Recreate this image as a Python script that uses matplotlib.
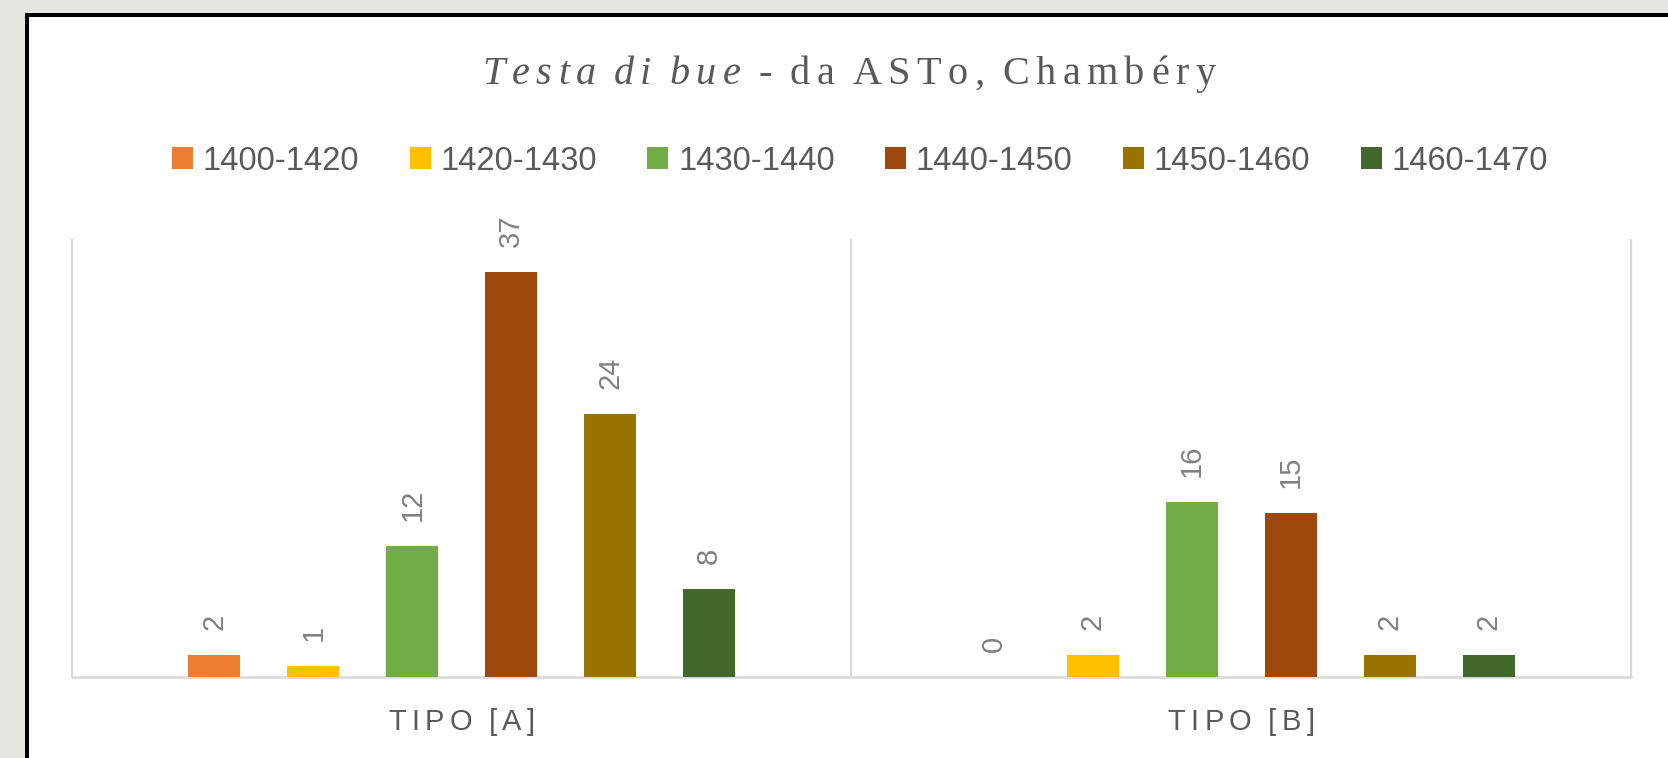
import matplotlib
matplotlib.use("Agg")
import matplotlib.pyplot as plt
from matplotlib.patches import Rectangle
from matplotlib.transforms import IdentityTransform
import numpy as np

CATEGORIES = ["TIPO [A]", "TIPO [B]"]
PERIODS = ["1400-1420", "1420-1430", "1430-1440", "1440-1450", "1450-1460", "1460-1470"]
COLORS = ["#ED7D31", "#FFC000", "#70AD47", "#9E480E", "#997300", "#43682B"]

V_1400_1420 = [2, 0]
V_1420_1430 = [1, 2]
V_1430_1440 = [12, 16]
V_1440_1450 = [37, 15]
V_1450_1460 = [24, 2]
V_1460_1470 = [8, 2]
SERIES = [V_1400_1420, V_1420_1430, V_1430_1440, V_1440_1450, V_1450_1460, V_1460_1470]

_W, _H, _DPI = 1668, 758, 100
_BG = "#E7E6E2"
_TXT = "#595959"
_LBL = "#808080"
_GRID = "#D9D9D9"

_BAR_STEP = 0.127
_BAR_W = 0.067


def _spaced_text(fig, cx, y, parts, width, space_px):
    # lay out characters one by one so the letters can be tracked out
    r = fig.canvas.get_renderer()
    items = []
    for s, kw in parts:
        for ch in s:
            if ch == " ":
                items.append((None, space_px))
                continue
            t = fig.text(0, y, ch, transform=IdentityTransform(),
                         ha="left", va="baseline", **kw)
            items.append((t, t.get_window_extent(r).width))
    ink = sum(w for _, w in items)
    track = (width - ink) / (len(items) - 1)
    x = cx - width / 2
    for t, w in items:
        if t is not None:
            t.set_x(x)
        x += w + track


def main():
    fig = plt.figure(figsize=(_W / _DPI, _H / _DPI), dpi=_DPI)
    fig.patch.set_facecolor(_BG)

    # framed white panel, open to the right and bottom
    fig.add_artist(Rectangle((25, -20), 2000, _H - 13 + 20, transform=IdentityTransform(),
                             facecolor="black", edgecolor="none", zorder=-5))
    fig.add_artist(Rectangle((29, -20), 2000, _H - 17 + 20, transform=IdentityTransform(),
                             facecolor="white", edgecolor="none", zorder=-4))

    ax = fig.add_axes([72 / _W, (_H - 677) / _H, (1631 - 72) / _W, (677 - 239) / _H])
    ax.set_facecolor("none")

    x = np.arange(len(CATEGORIES))
    handles = []
    for k, (vals, col) in enumerate(zip(SERIES, COLORS)):
        xs = x + (k - 2.5) * _BAR_STEP
        b = ax.bar(xs, vals, width=_BAR_W, color=col, zorder=3)
        handles.append(b)
        for xi, v in zip(xs, vals):
            ax.annotate(f"{v}", xy=(xi, v), xytext=(0, 18), textcoords="offset points",
                        ha="center", va="bottom", rotation=90, fontsize=21,
                        family="Liberation Sans", color=_LBL)

    ax.set_xlim(-0.5, len(CATEGORIES) - 0.5)
    ax.set_ylim(0, 40)
    ax.vlines(np.arange(len(CATEGORIES) + 1) - 0.5, 0, 40, color=_GRID, lw=1.6,
              zorder=1, clip_on=False)
    for side in ("left", "right", "top"):
        ax.spines[side].set_visible(False)
    ax.spines["bottom"].set_color(_GRID)
    ax.spines["bottom"].set_linewidth(1.8)
    ax.set_xticks([])
    ax.set_yticks([])

    # category labels, letter spaced
    for xi, cat in zip(x, CATEGORIES):
        cx = ax.transData.transform((xi, 0))[0]
        _spaced_text(fig, cx, 28, [(cat, dict(family="Liberation Sans", fontsize=21,
                                               color=_TXT))], 147, 6)

    # title: italic part + upright part, Excel-style tracking
    _spaced_text(fig, 849, _H - 84, [
        ("Testa di bue", dict(family="Liberation Serif", style="italic", fontsize=29,
                              color=_TXT)),
        (" - da ASTo, Chambéry", dict(family="Liberation Serif", fontsize=29,
                                      color=_TXT)),
    ], 733, 5)

    fig.legend(handles=handles, labels=PERIODS, ncol=len(PERIODS), loc="center",
               bbox_to_anchor=(860 / _W, 1 - 161 / _H), frameon=False,
               prop={"family": "Liberation Sans", "size": 23.5}, labelcolor=_TXT,
               handlelength=0.64, handleheight=0.64, handletextpad=0.3,
               columnspacing=1.55, borderpad=0, borderaxespad=0)

    fig.savefig("out.png", dpi=_DPI, facecolor=_BG)
    plt.close(fig)


if __name__ == "__main__":
    main()
